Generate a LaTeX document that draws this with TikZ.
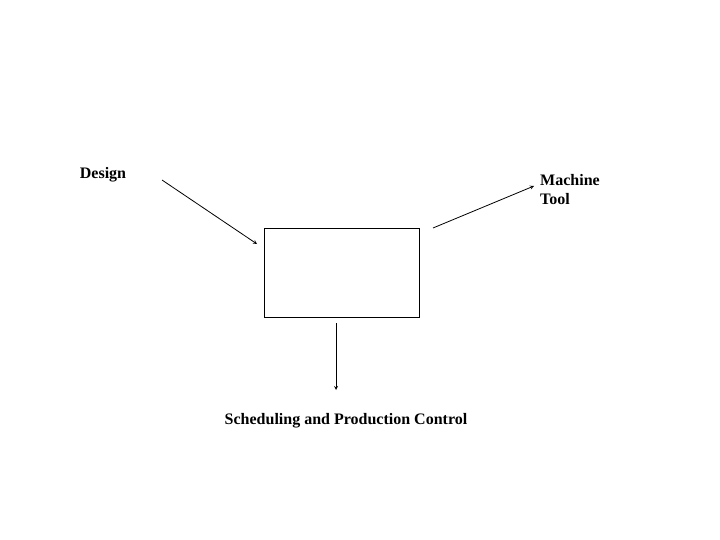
\documentclass[tikz,border=0pt]{standalone}
\usepackage{fontspec}
\setmainfont{Liberation Serif}
\begin{document}
\begin{tikzpicture}[x=1pt,y=-1pt,
  lbl/.style={font=\fontsize{16}{19}\selectfont\bfseries, inner sep=0pt},
  arr/.style={-stealth, line width=0.8pt}]
\useasboundingbox (0,0) rectangle (720,540);
\node[draw, line width=0.6pt, minimum width=155pt, minimum height=89pt, inner sep=0pt] (box) at (341.5,272.5) {};
\node[lbl] (design) at (103,175) {Design};
\node[lbl, align=left, anchor=west] (mt) at (540,189.5) {Machine\\Tool};
\node[lbl] (sched) at (346,421) {Scheduling and Production Control};
\coordinate (d0) at (162,180); \coordinate (d1) at (257,244);
\coordinate (m0) at (433,228); \coordinate (m1) at (534,186);
\coordinate (s0) at (336,323); \coordinate (s1) at (336,390);
\draw[arr] (d0) -- (d1);
\draw[arr] (m0) -- (m1);
\draw[arr] (s0) -- (s1);
\end{tikzpicture}
\end{document}
